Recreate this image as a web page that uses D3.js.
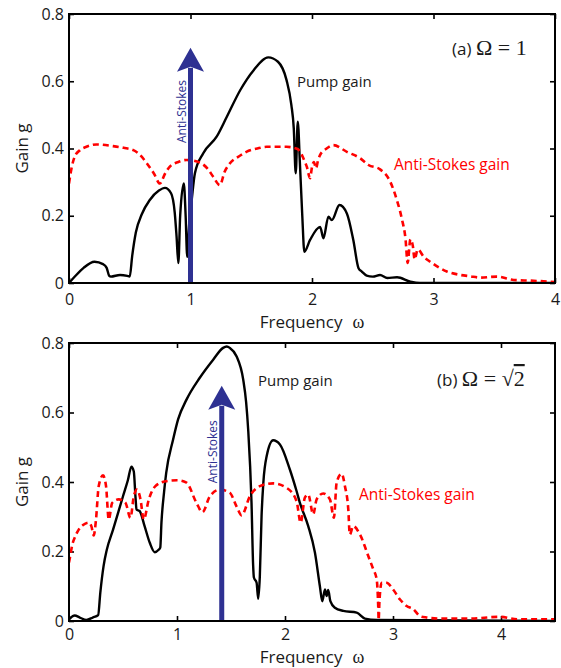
<!DOCTYPE html>
<html>
<head>
<meta charset="utf-8">
<script src="https://cdn.jsdelivr.net/npm/d3@7"></script>
<style>
	body { margin: 0; background: #fff; }
	text { font-family: "Open Sans", sans-serif; }
	.serif { font-family: "Liberation Serif", "DejaVu Serif", serif; }
</style>
</head>
<body>
<div id="chart"></div>
<script>
(function (d3) {

	'use strict';

	// [frequency, gain]
	var pumpA = [
		[0, 0], [0.05, 0.02], [0.12, 0.045], [0.21, 0.063], [0.28, 0.056], [0.31, 0.045],
		[0.33, 0.022], [0.345, 0.019], [0.42, 0.024], [0.48, 0.021], [0.50, 0.019],
		[0.52, 0.08], [0.55, 0.15], [0.60, 0.205], [0.665, 0.247], [0.74, 0.275],
		[0.79, 0.283], [0.84, 0.267], [0.87, 0.21], [0.885, 0.14], [0.90, 0.059],
		[0.915, 0.2], [0.945, 0.296], [0.96, 0.2], [0.973, 0.078], [0.99, 0.18],
		[1.01, 0.247], [1.036, 0.326], [1.105, 0.386], [1.215, 0.435], [1.30, 0.495],
		[1.41, 0.574], [1.52, 0.633], [1.64, 0.671], [1.72, 0.658], [1.79, 0.604],
		[1.83, 0.53], [1.85, 0.46], [1.866, 0.326], [1.883, 0.48], [1.90, 0.36],
		[1.92, 0.2], [1.937, 0.093], [1.984, 0.128], [2.067, 0.167], [2.094, 0.133],
		[2.135, 0.197], [2.163, 0.187], [2.226, 0.232], [2.287, 0.207], [2.34, 0.128],
		[2.383, 0.044], [2.41, 0.034], [2.45, 0.022], [2.50, 0.019], [2.56, 0.024],
		[2.62, 0.015], [2.70, 0.017], [2.81, 0.004], [2.89, 0], [4, 0]
	];

	var antiA = [
		[0, 0.296], [0.02, 0.34], [0.047, 0.376], [0.09, 0.395], [0.143, 0.405],
		[0.226, 0.412], [0.363, 0.407], [0.45, 0.402], [0.53, 0.395], [0.60, 0.375],
		[0.64, 0.356], [0.70, 0.325], [0.748, 0.296], [0.79, 0.325], [0.83, 0.346],
		[0.90, 0.36], [0.968, 0.366], [1.077, 0.358], [1.14, 0.34], [1.187, 0.316],
		[1.242, 0.291], [1.28, 0.33], [1.325, 0.356], [1.40, 0.377], [1.46, 0.39],
		[1.55, 0.40], [1.627, 0.405], [1.79, 0.405], [1.87, 0.40], [1.90, 0.392],
		[1.93, 0.37], [1.957, 0.346], [1.984, 0.312], [2.0, 0.345], [2.015, 0.36],
		[2.033, 0.341], [2.05, 0.365], [2.067, 0.381], [2.12, 0.40], [2.176, 0.41],
		[2.287, 0.39], [2.397, 0.371], [2.465, 0.351], [2.56, 0.338], [2.644, 0.301],
		[2.70, 0.245], [2.74, 0.19], [2.77, 0.13], [2.787, 0.06], [2.81, 0.13],
		[2.83, 0.11], [2.845, 0.07], [2.87, 0.10], [2.92, 0.078], [2.974, 0.063],
		[3.11, 0.034], [3.22, 0.024], [3.30, 0.02], [3.386, 0.016], [3.52, 0.019],
		[3.66, 0.009], [3.80, 0.007], [4, 0.003]
	];

	var pumpB = [
		[0, 0.005], [0.053, 0.016], [0.10, 0.01], [0.161, 0.003], [0.22, 0.01],
		[0.27, 0.017], [0.29, 0.082], [0.32, 0.158], [0.35, 0.205], [0.408, 0.263],
		[0.50, 0.359], [0.545, 0.405], [0.578, 0.444], [0.60, 0.43], [0.615, 0.36],
		[0.625, 0.321], [0.655, 0.316], [0.70, 0.273], [0.748, 0.225], [0.794, 0.198],
		[0.83, 0.205], [0.845, 0.211], [0.856, 0.283], [0.88, 0.37], [0.90, 0.426],
		[0.964, 0.522], [1.01, 0.58], [1.088, 0.637], [1.211, 0.70], [1.335, 0.752],
		[1.427, 0.786], [1.46, 0.79], [1.489, 0.786], [1.551, 0.762], [1.613, 0.695],
		[1.64, 0.63], [1.659, 0.551], [1.69, 0.34], [1.705, 0.16], [1.712, 0.125],
		[1.737, 0.11], [1.752, 0.064], [1.767, 0.129], [1.783, 0.302], [1.80, 0.40],
		[1.83, 0.474], [1.89, 0.52], [1.953, 0.508], [2.045, 0.436], [2.107, 0.374],
		[2.138, 0.34], [2.215, 0.273], [2.277, 0.197], [2.323, 0.10], [2.345, 0.057],
		[2.37, 0.091], [2.385, 0.072], [2.40, 0.089], [2.42, 0.057], [2.462, 0.038],
		[2.54, 0.029], [2.664, 0.024], [2.74, 0.007], [2.85, 0.003], [4.5, 0]
	];

	var antiB = [
		[0, 0.168], [0.013, 0.19], [0.028, 0.216], [0.06, 0.245], [0.09, 0.263],
		[0.13, 0.276], [0.183, 0.283], [0.207, 0.273], [0.229, 0.246], [0.25, 0.292],
		[0.275, 0.388], [0.315, 0.419], [0.343, 0.388], [0.368, 0.292], [0.40, 0.34],
		[0.46, 0.35], [0.523, 0.34], [0.569, 0.297], [0.60, 0.359], [0.63, 0.378],
		[0.662, 0.35], [0.692, 0.292], [0.739, 0.35], [0.80, 0.388], [0.893, 0.402],
		[1.0, 0.405], [1.088, 0.398], [1.18, 0.34], [1.236, 0.313], [1.304, 0.359],
		[1.397, 0.378], [1.489, 0.369], [1.551, 0.33], [1.598, 0.304], [1.675, 0.359],
		[1.767, 0.388], [1.89, 0.396], [2.015, 0.383], [2.107, 0.345], [2.145, 0.283],
		[2.184, 0.355], [2.215, 0.364], [2.261, 0.307], [2.293, 0.35], [2.354, 0.367],
		[2.416, 0.35], [2.453, 0.297], [2.478, 0.398], [2.525, 0.424], [2.555, 0.388],
		[2.586, 0.321], [2.60, 0.249], [2.632, 0.273], [2.694, 0.249], [2.771, 0.187],
		[2.817, 0.149], [2.849, 0.12], [2.864, 0.034], [2.867, 0.003], [2.875, 0.06],
		[2.895, 0.11], [2.94, 0.11], [3.0, 0.091], [3.065, 0.062], [3.127, 0.043],
		[3.188, 0.034], [3.25, 0.014], [3.312, 0.01], [3.436, 0.007], [3.70, 0.007],
		[3.99, 0.012], [4.15, 0.005], [4.5, 0.005]
	];

	var xMax = [4, 4.5];
	var xTicks = [[0, 1, 2, 3, 4], [0, 1, 2, 3, 4]];
	var yTicks = [0, 0.2, 0.4, 0.6, 0.8];
	var arrowX = [1, Math.SQRT2];
	var arrowTip = [0.70, 0.677];
	var arrowLabel = 'Anti-Stokes';
	var pumpLabel = 'Pump gain';
	var antiLabel = 'Anti-Stokes gain';

	var blue = '#2e3192';
	var red = '#ff0000';

	var svg = d3.select('#chart')
		.append('svg')
		.attr('width', 561)
		.attr('height', 668);

	var panels = [
		{ top: 14, bottom: 283, pump: pumpA, anti: antiA, tag: '(a) ', omega: '1',
			pumpPos: [297, 87], antiPos: [394, 170], tagPos: [452, 55], titleY: 328, pad: 11 },
		{ top: 343, bottom: 621, pump: pumpB, anti: antiB, tag: '(b) ', omega: '2',
			pumpPos: [258, 386], antiPos: [359, 500], tagPos: [437, 386], titleY: 663, pad: 8 }
	];

	panels.forEach(function (p, i) {
		drawPanel(p, i);
	});

	function drawPanel(p, i) {
		var left = 69, right = 555;

		var x = d3.scaleLinear().domain([0, xMax[i]]).range([left, right]);
		var y = d3.scaleLinear().domain([0, 0.8]).range([p.bottom, p.top]);

		var g = svg.append('g');

		var clipId = 'clip' + i;
		g.append('clipPath').attr('id', clipId)
			.append('rect')
			.attr('x', left).attr('y', p.top)
			.attr('width', right - left).attr('height', p.bottom - p.top);

		// matlab style inward ticks on all four sides
		var fmt = function (d) { return d === 0 ? '0' : d3.format('.1f')(d); };

		g.append('g')
			.attr('transform', 'translate(0,' + p.bottom + ')')
			.call(d3.axisBottom(x).tickValues(xTicks[i]).tickSize(-5).tickPadding(p.pad).tickFormat(d3.format('d')));
		g.append('g')
			.attr('transform', 'translate(0,' + p.top + ')')
			.call(d3.axisTop(x).tickValues(xTicks[i]).tickSize(-5).tickFormat(''));
		g.append('g')
			.attr('transform', 'translate(' + left + ',0)')
			.call(d3.axisLeft(y).tickValues(yTicks).tickSize(-5).tickPadding(5).tickFormat(fmt));
		g.append('g')
			.attr('transform', 'translate(' + right + ',0)')
			.call(d3.axisRight(y).tickValues(yTicks).tickSize(-5).tickFormat(''));

		g.selectAll('.domain').remove();
		g.selectAll('.tick line').attr('stroke', '#000').attr('stroke-width', 1.6);
		g.selectAll('.tick text')
			.attr('fill', '#1a1a1a')
			.style('font-family', '"Open Sans", sans-serif')
			.style('font-size', '16px');

		var line = d3.line()
			.x(function (d) { return x(d[0]); })
			.y(function (d) { return y(d[1]); })
			.curve(d3.curveMonotoneX);

		var plot = g.append('g').attr('clip-path', 'url(#' + clipId + ')');

		plot.append('path')
			.datum(p.pump)
			.attr('d', line)
			.attr('fill', 'none')
			.attr('stroke', '#000')
			.attr('stroke-width', 2.4)
			.attr('stroke-linejoin', 'round');

		plot.append('path')
			.datum(p.anti)
			.attr('d', line)
			.attr('fill', 'none')
			.attr('stroke', red)
			.attr('stroke-width', 2.6)
			.attr('stroke-dasharray', '6,4');

		// arrow at the anti-Stokes frequency
		var ax = x(arrowX[i]);
		var tip = y(arrowTip[i]);
		var y0 = y(0);
		var head = 24;
		plot.append('line')
			.attr('x1', ax).attr('x2', ax)
			.attr('y1', y0).attr('y2', tip + head - 4)
			.attr('stroke', blue)
			.attr('stroke-width', 5);
		plot.append('path')
			.attr('d', 'M' + ax + ',' + tip +
				'L' + (ax + 13.5) + ',' + (tip + head) +
				'L' + ax + ',' + (tip + head - 5) +
				'L' + (ax - 13.5) + ',' + (tip + head) + 'Z')
			.attr('fill', blue);

		g.append('text')
			.attr('transform', 'translate(' + (ax - 4.5) + ',' + y(arrowTip[i] - 0.19) + ') rotate(-90)')
			.attr('text-anchor', 'middle')
			.attr('fill', blue)
			.style('font-size', '12px')
			.text(arrowLabel);

		// frame
		g.append('rect')
			.attr('x', left).attr('y', p.top)
			.attr('width', right - left).attr('height', p.bottom - p.top)
			.attr('fill', 'none')
			.attr('stroke', '#000')
			.attr('stroke-width', 2);

		g.append('text')
			.attr('x', p.pumpPos[0]).attr('y', p.pumpPos[1])
			.attr('fill', '#1a1a1a')
			.style('font-size', '15px')
			.text(pumpLabel);

		g.append('text')
			.attr('x', p.antiPos[0]).attr('y', p.antiPos[1])
			.attr('fill', red)
			.style('font-size', '15.5px')
			.text(antiLabel);

		var tag = g.append('text')
			.attr('x', p.tagPos[0]).attr('y', p.tagPos[1])
			.attr('fill', '#1a1a1a')
			.style('font-size', '17px');
		tag.append('tspan').text(p.tag);
		tag.append('tspan').attr('class', 'serif').style('font-size', '22px').text('\u03A9 = ');
		if (i === 0) {
			tag.append('tspan').attr('class', 'serif').style('font-size', '22px').text(p.omega);
		} else {
			tag.append('tspan').attr('class', 'serif').style('font-size', '22px').text('\u221A');
			tag.append('tspan').attr('class', 'serif').style('font-size', '22px')
				.style('text-decoration', 'overline').text(p.omega);
		}

		// axis titles
		var title = g.append('text')
			.attr('x', (left + right) / 2).attr('y', p.titleY)
			.attr('text-anchor', 'middle')
			.attr('fill', '#1a1a1a')
			.style('font-size', '17px');
		title.append('tspan').text('Frequency');
		title.append('tspan').attr('class', 'serif').attr('dx', 10).style('font-size', '18px').text('\u03C9');

		g.append('text')
			.attr('transform', 'translate(28,' + ((p.top + p.bottom) / 2) + ') rotate(-90)')
			.attr('text-anchor', 'middle')
			.attr('fill', '#1a1a1a')
			.style('font-size', '17px')
			.text('Gain g');
	}

})(d3);
</script>
</body>
</html>
